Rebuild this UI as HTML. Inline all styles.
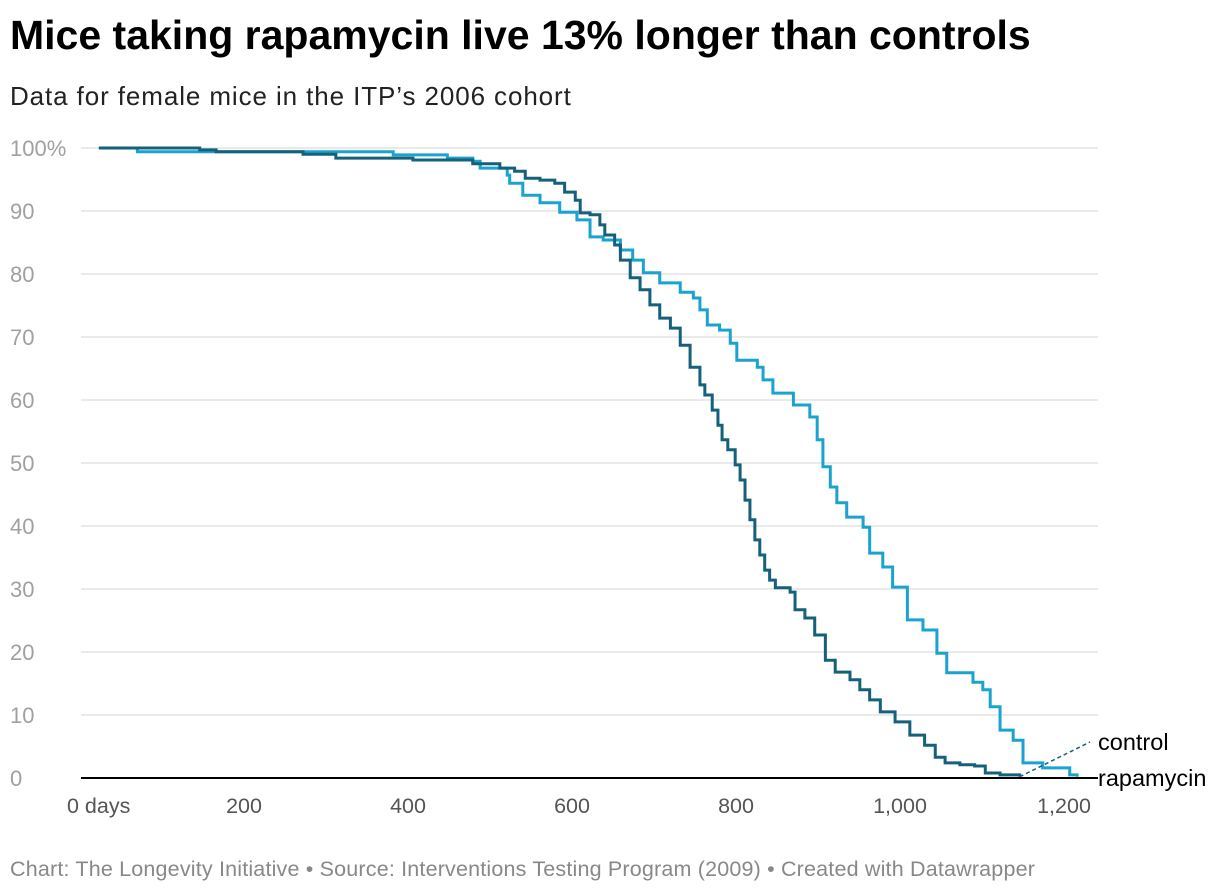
<!DOCTYPE html>
<html><head><meta charset="utf-8"><style>
body{margin:0;background:#fff;font-family:"Liberation Sans",sans-serif;}
#wrap{position:relative;width:1220px;height:896px;overflow:hidden;}
.t{position:absolute;white-space:nowrap;}
</style></head><body>
<div id="wrap">
<div class="t" style="left:10px;top:12px;font-size:41px;font-weight:bold;color:#000;letter-spacing:0px">Mice taking rapamycin live 13% longer than controls</div>
<div class="t" style="left:10px;top:81px;font-size:26px;color:#222;letter-spacing:0.9px">Data for female mice in the ITP’s 2006 cohort</div>
<svg id="chart" width="1220" height="896" style="position:absolute;left:0;top:0"></svg>
<div class="t" style="left:10px;top:857px;font-size:21.5px;color:#888;letter-spacing:0.18px">Chart: The Longevity Initiative • Source: Interventions Testing Program (2009) • Created with Datawrapper</div>
</div>
<script>
const yTicks=[0,10,20,30,40,50,60,70,80,90,100];
const xTicks=[0,200,400,600,800,1000,1200];
const xTickLabels=["0 days","200","400","600","800","1,000","1,200"];
const controlDays=[23,146,166,272,312,406,479,512,530,543,561,579,591,604,610,622,634,640,652,659,671,683,695,707,720,732,744,756,762,771,778,783,790,799,805,811,817,823,829,835,841,848,866,872,884,896,909,921,939,951,963,976,994,1012,1030,1043,1055,1073,1091,1104,1122,1146];
const controlPct=[100,99.7,99.4,99.0,98.4,98.1,97.5,96.8,96.3,95.2,94.9,94.4,93.0,91.7,89.7,89.4,87.8,86.2,84.6,82.2,79.4,77.5,75.1,73.0,71.4,68.7,65.2,62.4,60.8,58.4,56.0,53.7,52.1,49.7,47.3,44.1,41.0,37.8,35.4,33.0,31.4,30.2,29.5,26.7,25.4,22.7,18.7,16.8,15.6,14.0,12.4,10.5,8.9,6.8,5.2,3.3,2.4,2.1,1.9,0.8,0.5,0.2];
const rapaDays=[23,70,382,448,479,488,521,524,540,561,585,606,622,638,659,674,687,707,732,748,756,765,780,793,801,826,833,845,870,890,899,906,915,923,935,955,963,979,991,1009,1028,1045,1057,1089,1101,1110,1122,1138,1150,1174,1207,1216];
const rapaPct=[100,99.4,98.9,98.4,97.9,96.8,95.7,94.4,92.5,91.3,89.8,88.6,85.9,85.4,83.8,82.2,80.2,78.6,77.1,76.2,74.3,71.9,71.1,69.0,66.3,65.2,63.2,61.1,59.2,57.3,53.7,49.4,46.2,43.7,41.4,39.8,35.7,33.5,30.3,25.1,23.5,19.8,16.7,15.2,14.0,11.3,7.6,6.0,2.4,1.6,0.5,0.2];
const NS="http://www.w3.org/2000/svg";
const svg=document.getElementById('chart');
const X=d=>80+d*0.82, Y=p=>778-p*6.3;
function mk(tag,attrs){const e=document.createElementNS(NS,tag);for(const k in attrs)e.setAttribute(k,attrs[k]);svg.appendChild(e);return e;}
yTicks.forEach(v=>{
 if(v>0){const g=mk('line',{x1:81,x2:1098,y1:Y(v),y2:Y(v),stroke:'#e3e3e3','stroke-width':1.5});
 
 }
 const t=mk('text',{x:10,y:Y(v)+8,'font-size':22,fill:'#a0a0a0','font-family':'Liberation Sans, sans-serif'});
 t.textContent=v===100?'100%':String(v);
 
 
});
xTicks.forEach((v,i)=>{
 const t=mk('text',{x:i===0?67:X(v),y:813,'font-size':21.5,fill:'#555','text-anchor':i===0?'start':'middle','font-family':'Liberation Sans, sans-serif'});
 t.textContent=xTickLabels[i];
 
 
});
function stepPath(ds,ps){let d='M'+X(ds[0])+','+Y(ps[0]);for(let i=1;i<ds.length;i++){d+=' H'+X(ds[i])+' V'+Y(ps[i]);}return d;}
const r=mk('path',{d:stepPath(rapaDays,rapaPct),fill:'none',stroke:'#1aa3d0','stroke-width':3});


const c=mk('path',{d:stepPath(controlDays,controlPct),fill:'none',stroke:'#15607a','stroke-width':3});


const b=mk('line',{x1:81,x2:1098,y1:778,y2:778,stroke:'#000','stroke-width':2});


const cEnd=controlDays[controlDays.length-1];
const dl=mk('line',{x1:X(cEnd),y1:Y(controlPct[controlPct.length-1]),x2:1090,y2:742,stroke:'#15607a','stroke-width':1.5,'stroke-dasharray':'4,3'});


const lc=mk('text',{x:1098,y:750,'font-size':23.5,fill:'#000','font-family':'Liberation Sans, sans-serif'});lc.textContent='control';


const lr=mk('text',{x:1098,y:786,'font-size':23.5,fill:'#000','font-family':'Liberation Sans, sans-serif'});lr.textContent='rapamycin';


</script>
</body></html>
